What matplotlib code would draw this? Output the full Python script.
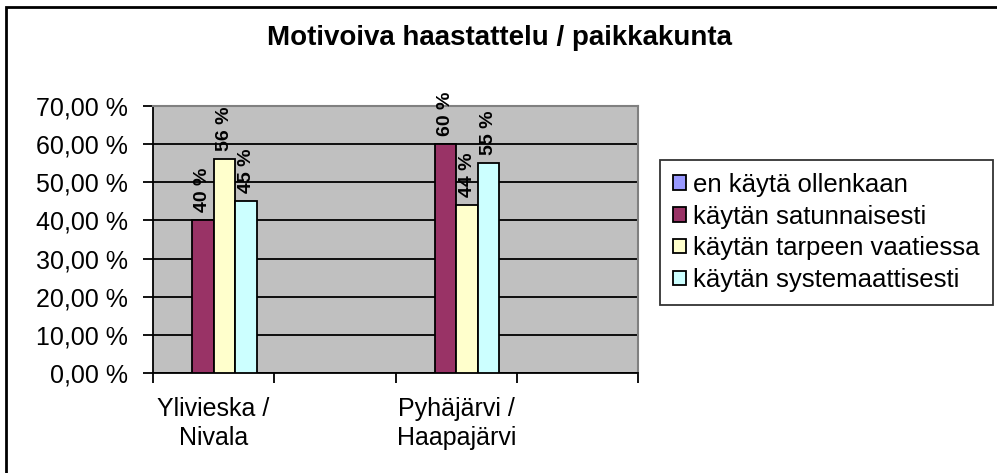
import numpy as np
import matplotlib
matplotlib.use("Agg")
import matplotlib.pyplot as plt
from matplotlib.patches import Rectangle
from matplotlib.ticker import FuncFormatter

# data
categories = ["Ylivieska /\nNivala", "", "Pyhäjärvi /\nHaapajärvi", ""]
series_names = ["en käytä ollenkaan", "käytän satunnaisesti",
                "käytän tarpeen vaatiessa", "käytän systemaattisesti"]
en_kayta = [0, 0, 0, 0]
satunnaisesti = [40, 0, 60, 0]
tarpeen_vaatiessa = [56, 0, 44, 0]
systemaattisesti = [45, 0, 55, 0]
colors = ["#9999FF", "#993366", "#FFFFCC", "#CCFFFF"]

plt.rcParams["font.family"] = ["Liberation Sans", "DejaVu Sans"]

fig = plt.figure(figsize=(9.97, 4.73), dpi=100)
ax = fig.add_axes([0.1535, 0.2114, 0.4865, 0.5645])

series = [en_kayta, satunnaisesti, tarpeen_vaatiessa, systemaattisesti]
x = np.arange(len(categories))
w = 1 / 1.4 / 4
for i, vals in enumerate(series):
    pos = x - 2 * w + (i + 0.5) * w
    vals = np.array(vals, dtype=float)
    shown = np.where(vals > 0, vals, np.nan) if i > 0 else vals
    ax.bar(pos, shown, width=w, color=colors[i], edgecolor="black",
           linewidth=1.3, label=series_names[i], zorder=3)
    if i > 0:
        for p, v in zip(pos, vals):
            if v > 0:
                ax.text(p, v + 2.2, f"{v:.0f} %", rotation=90, ha="center",
                        va="bottom", fontsize=14, fontweight="bold", zorder=4)

ax.set_facecolor("#C0C0C0")
ax.set_ylim(0, 70)
ax.set_xlim(-0.5, len(categories) - 0.5)
ax.set_yticks(np.arange(0, 71, 10))
ax.yaxis.set_major_formatter(FuncFormatter(lambda v, p: f"{v:.2f} %".replace(".", ",")))
ax.grid(axis="y", color="black", linewidth=1.3, zorder=1)
ax.set_axisbelow(True)

ax.set_xticks(x)
ax.set_xticklabels(categories, fontsize=18, linespacing=1.3)
ax.set_xticks(np.arange(-0.5, len(categories)), minor=True)
ax.tick_params(axis="x", which="major", length=0, pad=17)
ax.tick_params(axis="x", which="minor", length=7, width=1.3, direction="out")
ax.tick_params(axis="y", length=7, width=1.3, direction="out", labelsize=18, pad=11)

for s in ["top", "right"]:
    ax.spines[s].set_color("#808080")
    ax.spines[s].set_linewidth(1.5)
for s in ["left", "bottom"]:
    ax.spines[s].set_linewidth(1.3)

fig.text(0.501, 0.92, "Motivoiva haastattelu / paikkakunta", ha="center",
         va="center", fontsize=20, fontweight="bold")

leg = fig.legend(loc="upper left", bbox_to_anchor=(660 / 997, 1 - 160 / 473),
                 fontsize=18.5, frameon=True, fancybox=False,
                 edgecolor="black", handlelength=0.5, handleheight=0.5,
                 handletextpad=0.3, labelspacing=0.3, borderpad=0.5,
                 borderaxespad=0)
leg.get_frame().set_linewidth(1.3)

fig.patches.append(Rectangle((0.006, -0.05), 1.1, 1.035, transform=fig.transFigure,
                             fill=False, edgecolor="black", linewidth=2))

fig.savefig("out.png", dpi=100)
